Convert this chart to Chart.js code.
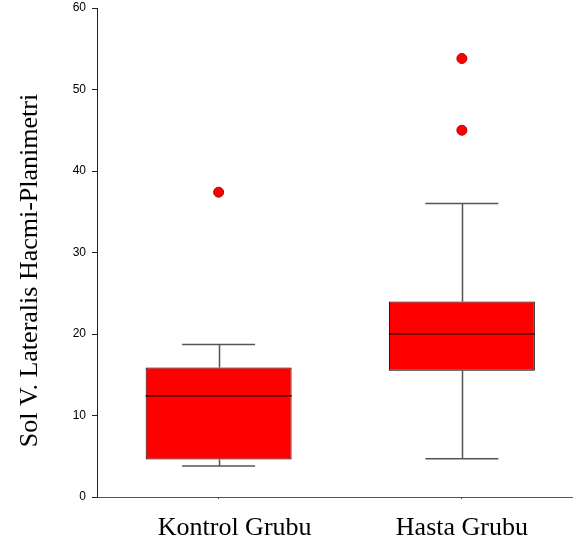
<!DOCTYPE html>
<html>
<head>
<meta charset="utf-8">
<script src="https://cdn.jsdelivr.net/npm/chart.js@4"></script>
<style>
  html, body { margin: 0; padding: 0; background: #fff; }
  #wrap { width: 573px; height: 547px; }
</style>
</head>
<body>
<div id="wrap"><canvas id="chart"></canvas></div>
<script>
// groups and box-plot values
const categories = ['Kontrol Grubu', 'Hasta Grubu'];
const q1 = [4.6, 15.5];
const median = [12.4, 20.0];
const q3 = [15.9, 24.0];
const whiskerLow = [3.8, 4.7];
const whiskerHigh = [18.7, 36.0];
const outliers = [[37.4], [45.0, 53.8]];
const yTicks = [0, 10, 20, 30, 40, 50, 60];
const yTitle = 'Sol V. Lateralis Hacmi-Planimetri';

const boxData = categories.map((c, i) => ({ x: i, y: [q1[i], q3[i]] }));
const outlierData = [];
outliers.forEach((list, i) => list.forEach(v => outlierData.push({ x: i, y: v })));

// whiskers behind the boxes, medians on top, serif labels
const boxPlotLines = {
  id: 'boxPlotLines',
  beforeDatasetsDraw(chart) {
    const { ctx, scales: { x, y } } = chart;
    ctx.save();
    ctx.strokeStyle = '#555';
    ctx.lineWidth = 1.5;
    categories.forEach((c, i) => {
      const cx = Math.round(x.getPixelForValue(i)) + 0.5;
      const capL = x.getPixelForValue(i - 0.15);
      const capR = x.getPixelForValue(i + 0.15);
      const hi = y.getPixelForValue(whiskerHigh[i]);
      const lo = y.getPixelForValue(whiskerLow[i]);
      ctx.beginPath();
      ctx.moveTo(cx, y.getPixelForValue(q3[i]));
      ctx.lineTo(cx, hi);
      ctx.moveTo(capL, hi);
      ctx.lineTo(capR, hi);
      ctx.moveTo(cx, y.getPixelForValue(q1[i]));
      ctx.lineTo(cx, lo);
      ctx.moveTo(capL, lo);
      ctx.lineTo(capR, lo);
      ctx.stroke();
    });
    ctx.restore();
  },
  afterDatasetsDraw(chart) {
    const { ctx, scales: { x, y } } = chart;
    const bars = chart.getDatasetMeta(0).data;
    ctx.save();
    ctx.strokeStyle = '#000';
    ctx.lineWidth = 1.2;
    categories.forEach((c, i) => {
      const half = bars[i].width / 2;
      const cx = x.getPixelForValue(i);
      const my = y.getPixelForValue(median[i]);
      ctx.beginPath();
      ctx.moveTo(cx - half, my);
      ctx.lineTo(cx + half, my);
      ctx.stroke();
    });
    ctx.restore();
  },
  afterDraw(chart) {
    const { ctx, chartArea, scales: { x } } = chart;
    ctx.save();
    ctx.fillStyle = '#000';
    ctx.font = '26px "Liberation Serif", "Times New Roman", serif';
    ctx.textAlign = 'center';
    ctx.textBaseline = 'alphabetic';
    const shift = [16, 0];
    categories.forEach((c, i) => {
      ctx.fillText(c, x.getPixelForValue(i) + shift[i], chartArea.bottom + 38);
    });
    ctx.translate(37, (chartArea.top + chartArea.bottom) / 2 + 18);
    ctx.rotate(-Math.PI / 2);
    ctx.fillText(yTitle, 0, 0);
    ctx.restore();
  }
};

new Chart(document.getElementById('chart'), {
  type: 'bar',
  data: {
    datasets: [
      {
        type: 'bar',
        data: boxData,
        backgroundColor: '#ff0000',
        borderColor: '#000',
        borderWidth: 1,
        borderSkipped: false,
        barPercentage: 0.6,
        categoryPercentage: 1,
      },
      {
        type: 'scatter',
        data: outlierData,
        backgroundColor: '#ff0000',
        borderColor: '#b00000',
        borderWidth: 1,
        pointRadius: 5,
      },
    ],
  },
  options: {
    responsive: true,
    maintainAspectRatio: false,
    animation: false,
    layout: { autoPadding: false, padding: { top: 8, right: 1, left: 0, bottom: 0 } },
    plugins: {
      legend: { display: false },
      tooltip: { enabled: false },
    },
    scales: {
      x: {
        type: 'linear',
        offset: false,
        min: -0.5,
        max: 1.4527,
        afterBuildTicks: (scale) => {
          scale.ticks = categories.map((c, i) => ({ value: i }));
        },
        afterFit: (scale) => { scale.height = 50; },
        ticks: { display: false },
        grid: { offset: false, drawOnChartArea: false, drawTicks: true, tickLength: 2, color: '#555' },
        border: { display: true, color: '#555', width: 1 },
      },
      y: {
        min: 0,
        max: 60,
        afterBuildTicks: (scale) => {
          scale.ticks = yTicks.map(v => ({ value: v }));
        },
        afterFit: (scale) => {
          scale.width = 97;
          scale.paddingTop = 0;
          scale.paddingBottom = 0;
        },
        ticks: {
          color: '#000',
          padding: 6,
          font: { family: '"Liberation Sans", Arial, sans-serif', size: 12 },
        },
        grid: { drawOnChartArea: false, drawTicks: true, tickLength: 5, color: '#222' },
        border: { display: true, color: '#222', width: 1 },
      },
    },
  },
  plugins: [boxPlotLines],
});
</script>
</body>
</html>
